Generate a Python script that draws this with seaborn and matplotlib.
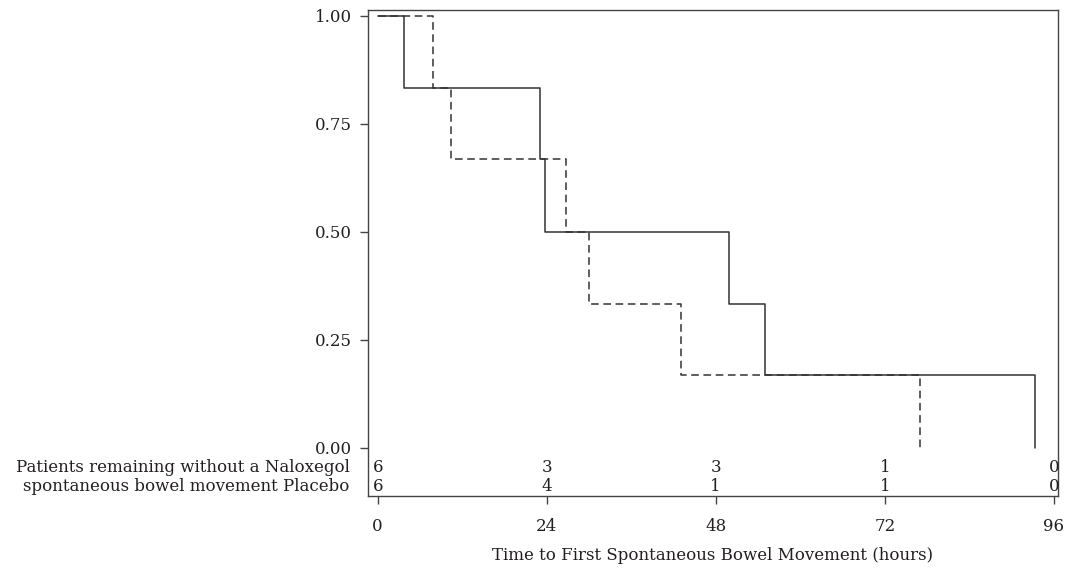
import pandas as pd
import seaborn as sns
import matplotlib.pyplot as plt
import matplotlib.transforms as mtransforms

# step points (hours, proportion without a bowel movement)
naloxegol_hours = [0, 3.8, 23.0, 23.8, 49.9, 55.0, 93.4]
naloxegol_surv = [1.0, 0.833, 0.667, 0.5, 0.333, 0.167, 0.0]
placebo_hours = [0, 7.8, 10.4, 26.7, 30.0, 43.0, 77.0]
placebo_surv = [1.0, 0.833, 0.667, 0.5, 0.333, 0.167, 0.0]

# patients at risk table
risk_hours = [0, 24, 48, 72, 96]
naloxegol_risk = [6, 3, 3, 1, 0]
placebo_risk = [6, 4, 1, 1, 0]

ink = "#231f20"
fs = 12

sns.set_style("ticks")
plt.rcParams["font.family"] = ["DejaVu Serif", "Liberation Serif"]
plt.rcParams["text.color"] = ink
plt.rcParams["axes.labelcolor"] = ink

df = pd.concat([
    pd.DataFrame({"hours": naloxegol_hours, "surv": naloxegol_surv, "group": "Naloxegol"}),
    pd.DataFrame({"hours": placebo_hours, "surv": placebo_surv, "group": "Placebo"}),
]).reset_index(drop=True)

fig = plt.figure(figsize=(10.66, 5.69), dpi=100)
ax = fig.add_axes([0.3449, 0.1283, 0.6476, 0.8541])

sns.lineplot(data=df, x="hours", y="surv", hue="group", style="group",
             palette={"Naloxegol": "#333333", "Placebo": "#333333"},
             dashes={"Naloxegol": "", "Placebo": (5, 3)},
             estimator=None, sort=False, drawstyle="steps-post",
             linewidth=1.1, legend=False, ax=ax)

ax.set_xlim(-1.42, 96.6)
ax.set_ylim(-0.112, 1.013)
ax.set_xticks(risk_hours)
ax.set_yticks([0, 0.25, 0.5, 0.75, 1.0])
ax.set_yticklabels(["0.00", "0.25", "0.50", "0.75", "1.00"])
ax.tick_params(axis="both", direction="out", length=5.5, width=1.0,
               color="#444444", labelsize=fs, labelcolor=ink)
ax.tick_params(axis="x", pad=10)
ax.tick_params(axis="y", pad=6)
for s in ax.spines.values():
    s.set_visible(True)
    s.set_color("#444444")
    s.set_linewidth(1.0)

ax.set_xlabel("Time to First Spontaneous Bowel Movement (hours)", fontsize=fs, labelpad=9)
ax.set_ylabel("")

# numbers at risk inside the frame, below zero
for h, n1, n2 in zip(risk_hours, naloxegol_risk, placebo_risk):
    ax.text(h, -0.046, str(n1), ha="center", va="center", fontsize=fs)
    ax.text(h, -0.091, str(n2), ha="center", va="center", fontsize=fs)

trans = mtransforms.blended_transform_factory(ax.transAxes, ax.transData)
ax.text(-0.026, -0.046, "Patients remaining without a Naloxegol", transform=trans,
        ha="right", va="center", fontsize=fs)
ax.text(-0.026, -0.091, "spontaneous bowel movement Placebo", transform=trans,
        ha="right", va="center", fontsize=fs)

plt.savefig("out.png", dpi=100)
